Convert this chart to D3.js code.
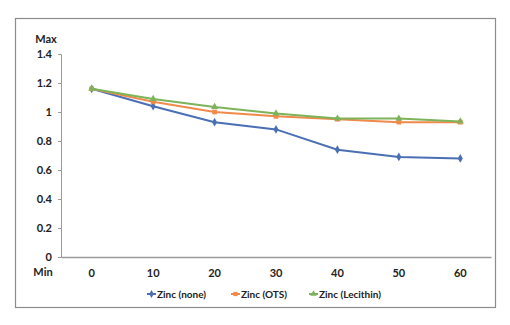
<!DOCTYPE html>
<html><head><meta charset="utf-8">
<script src="https://cdn.jsdelivr.net/npm/d3@7"></script>
<style>body{margin:0;background:#fff}svg{display:block}</style>
</head><body>
<script>
const categories = ["0","10","20","30","40","50","60"];
const seriesNames = ["Zinc (none)","Zinc (OTS)","Zinc (Lecithin)"];
const zincNone = [1.16,1.04,0.93,0.88,0.74,0.69,0.68];
const zincOTS = [1.16,1.07,1.0,0.97,0.95,0.93,0.93];
const zincLecithin = [1.16,1.09,1.035,0.99,0.955,0.955,0.935];
const yTicks = [0,0.2,0.4,0.6,0.8,1,1.2,1.4];
const colors = ["#4a6fb5","#f08a4b","#7db35a"];

const W=510,H=325;
const svg=d3.select("body").append("svg").attr("width",W).attr("height",H);
const font="Lato, 'Open Sans', sans-serif";

svg.append("rect").attr("x",15.5).attr("y",18.5).attr("width",480).attr("height",289)
  .attr("fill","#fff").attr("stroke","#8c8c8c").attr("stroke-width",1.2);

const x=d3.scaleBand().domain(categories).range([61,491]);
const y=d3.scaleLinear().domain([0,1.4]).range([257,54]);

// y axis
const ya=svg.append("g").attr("transform","translate(61,0)")
  .call(d3.axisLeft(y).tickValues(yTicks).tickSize(3).tickFormat(d=>d3.format("~g")(d)));
ya.select(".domain").attr("stroke","#9a9a9a");
ya.selectAll(".tick line").attr("stroke","#9a9a9a");
ya.selectAll("text").attr("x",-9).attr("dy","0.35em").attr("font-family",font).attr("font-weight","bold").attr("font-size",11).attr("fill","#222");

// x axis
const xa=svg.append("g").attr("transform","translate(0,257)")
  .call(d3.axisBottom(x).tickSize(0));
xa.select(".domain").attr("stroke","#9a9a9a").attr("stroke-width",1.5);
xa.selectAll("text").attr("y",12).attr("font-family",font).attr("font-weight","bold").attr("font-size",11).attr("fill","#222");

svg.append("text").attr("x",46).attr("y",43).attr("text-anchor","middle").attr("font-family",font).attr("font-weight","bold").attr("font-size",11).attr("fill","#222").text("Max");
svg.append("text").attr("x",43).attr("y",276).attr("text-anchor","middle").attr("font-family",font).attr("font-weight","bold").attr("font-size",11).attr("fill","#222").text("Min");

const data=[zincNone,zincOTS,zincLecithin];
const shapes=[d3.symbolDiamond,d3.symbolSquare,d3.symbolTriangle];
const line=d3.line().x((d,i)=>x(categories[i])+x.bandwidth()/2).y(d=>y(d));
data.forEach((vals,s)=>{
  svg.append("path").datum(vals).attr("d",line).attr("fill","none").attr("stroke",colors[s]).attr("stroke-width",2);
});
data.forEach((vals,s)=>{
  svg.append("g").selectAll("path").data(vals).join("path")
    .attr("transform",(d,i)=>`translate(${x(categories[i])+x.bandwidth()/2},${y(d)})`)
    .attr("d",d3.symbol().type(shapes[s]).size(22)).attr("fill",colors[s]);
});

// legend
const legX=[153,237,315];
seriesNames.forEach((n,s)=>{
  const g=svg.append("g").attr("transform",`translate(${legX[s]},294)`);
  g.append("line").attr("x1",-6).attr("x2",3).attr("stroke",colors[s]).attr("stroke-width",2);
  g.append("path").attr("transform","translate(-1.5,0)").attr("d",d3.symbol().type(shapes[s]).size(18)).attr("fill",colors[s]);
  g.append("text").attr("x",4).attr("dy","0.35em").attr("font-family",font).attr("font-weight","bold").attr("font-size",10).attr("fill","#222").text(n);
});
</script>
</body></html>
